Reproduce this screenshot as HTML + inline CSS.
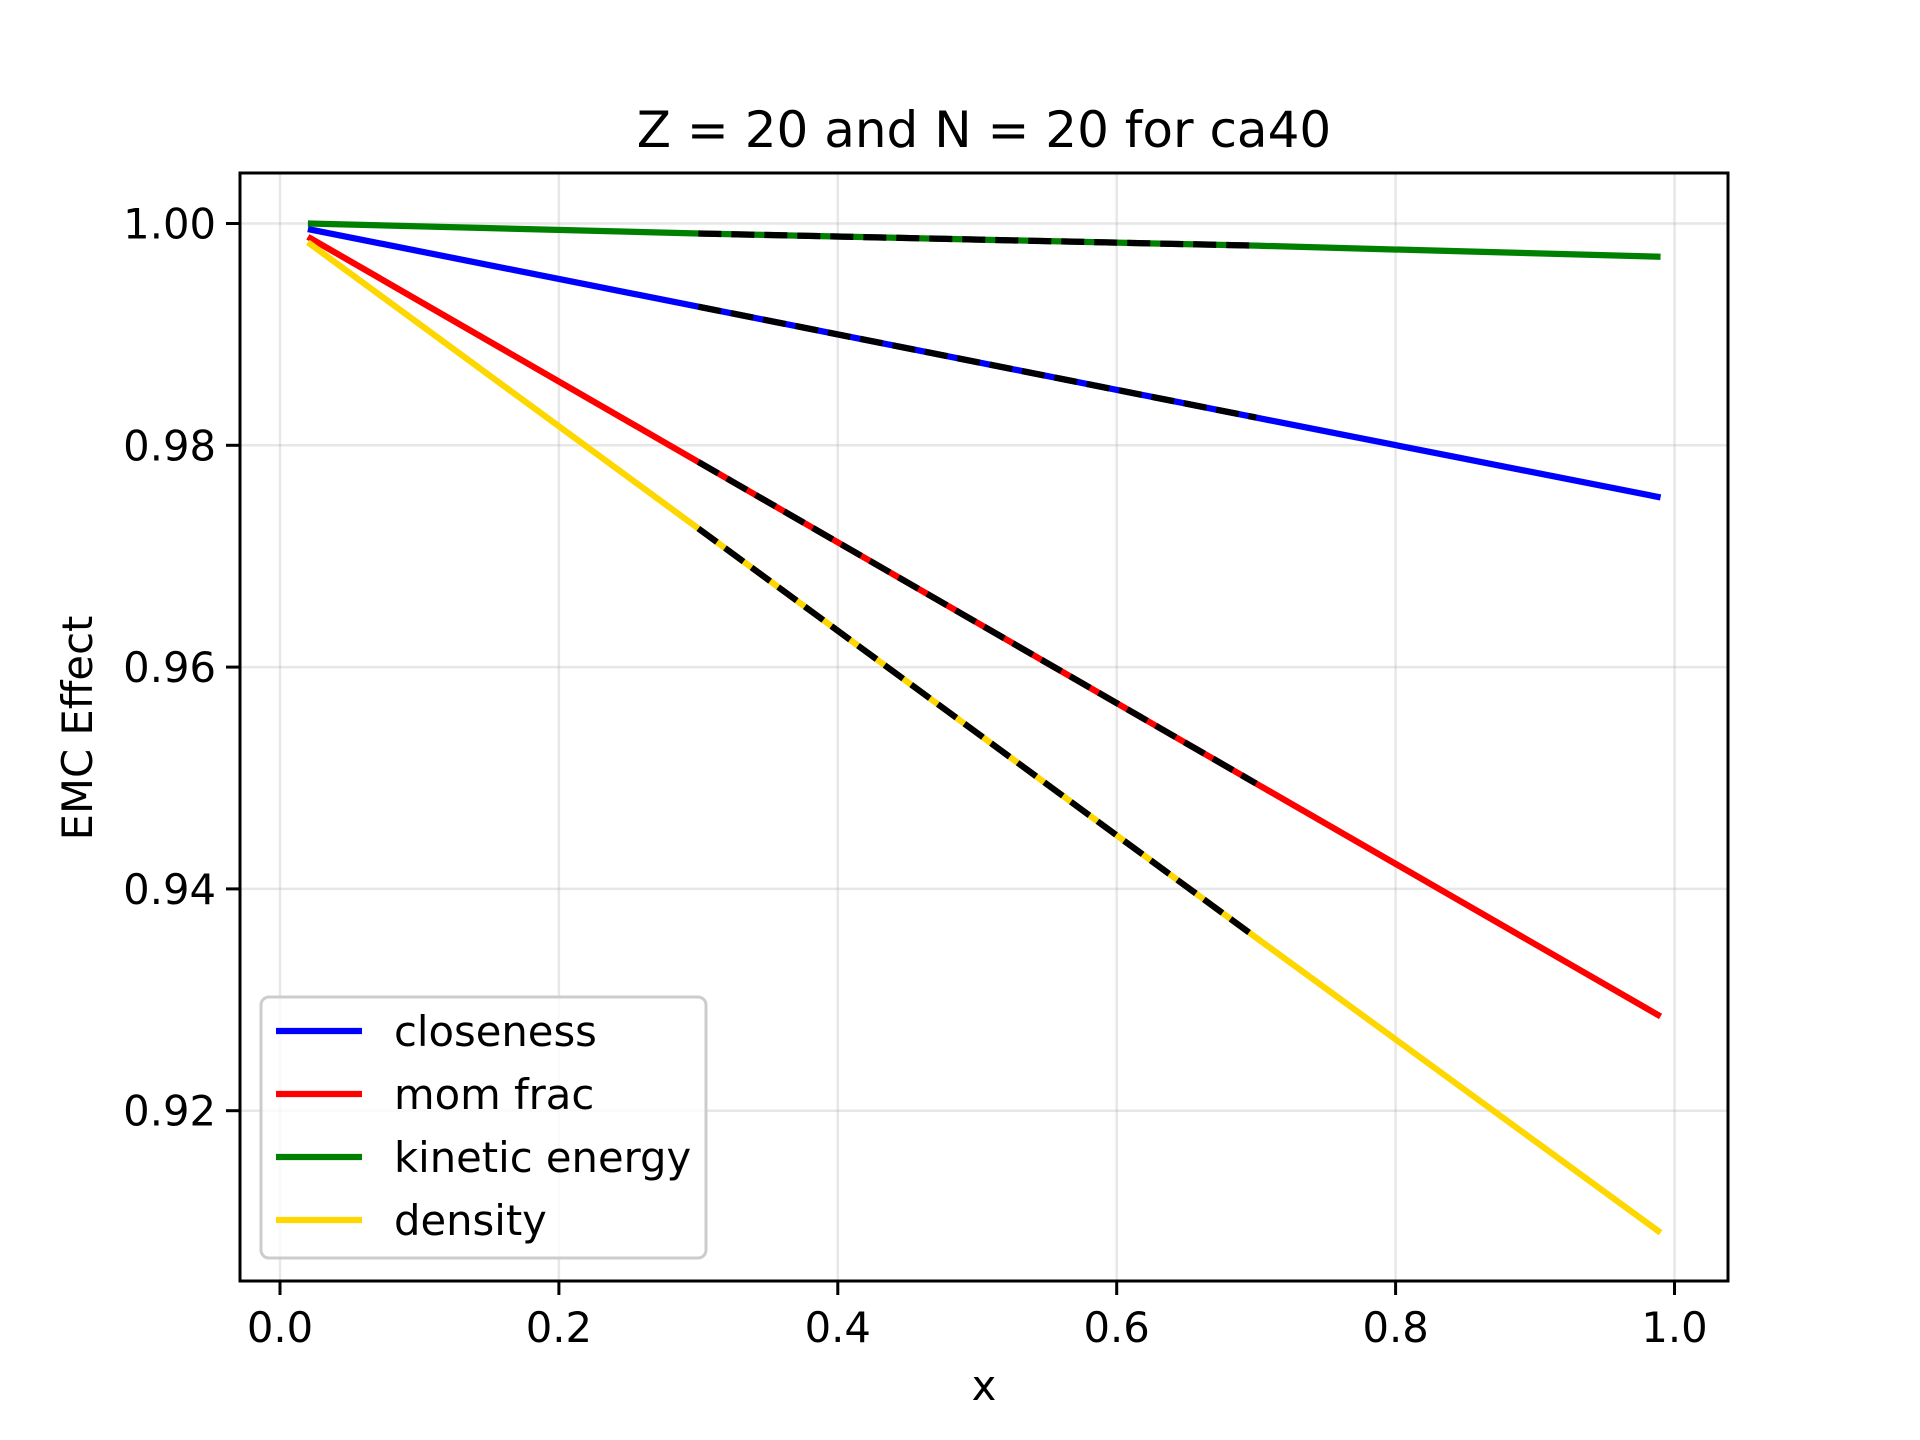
<!DOCTYPE html>
<html><head><meta charset="utf-8"><style>
html,body{margin:0;padding:0;background:#fff;}
svg{display:block;font-family:"DejaVu Sans","Liberation Sans",sans-serif;}
</style></head><body>
<svg id="chart" width="1920" height="1440" viewBox="0 0 1920 1440">
<rect width="1920" height="1440" fill="#fff"/>
<g id="grid"></g>
<g id="series"></g>
<g id="axes"></g>
<g id="legend"></g>
</svg>
<script>
const xPoints = [0.02, 0.3, 0.7, 0.99];
const closeness = [0.9995, 0.9925, 0.9825, 0.9753];
const momFrac = [0.9988, 0.9785, 0.9495, 0.9285];
const kinetic = [1.0000, 0.9991, 0.9980, 0.9970];
const density = [0.9983, 0.9725, 0.9356, 0.9090];
const fitRange = [0.3, 0.7];
const xTicks = [0.0, 0.2, 0.4, 0.6, 0.8, 1.0];
const xTickLabels = ["0.0","0.2","0.4","0.6","0.8","1.0"];
const yTicks = [0.92, 0.94, 0.96, 0.98, 1.00];
const yTickLabels = ["0.92","0.94","0.96","0.98","1.00"];
const seriesNames = ["closeness","mom frac","kinetic energy","density"];

const NS="http://www.w3.org/2000/svg";
const L=240,R=1728,T=173,B=1281;
const xs=v=>280+(v-0)*1394.5;
const ys=v=>223.5+(1.0-v)*11090;
function mk(tag,attrs,parent){const e=document.createElementNS(NS,tag);for(const k in attrs)e.setAttribute(k,attrs[k]);parent.appendChild(e);return e;}
const grid=document.getElementById('grid'),series=document.getElementById('series'),axes=document.getElementById('axes'),legend=document.getElementById('legend'),svg=document.getElementById('chart');

xTicks.forEach((t,i)=>{
  const g=mk('line',{x1:xs(t),x2:xs(t),y1:T,y2:B,stroke:'#b0b0b0','stroke-opacity':0.3,'stroke-width':2.5},grid);
  
  
  const tk=mk('line',{x1:xs(t),x2:xs(t),y1:B,y2:B+14,stroke:'#000','stroke-width':3},axes);
  
  
  const tx=mk('text',{x:xs(t),y:1342,'text-anchor':'middle','font-size':41.7},axes);
  tx.textContent=xTickLabels[i];
  
  
});
yTicks.forEach((t,i)=>{
  const g=mk('line',{x1:L,x2:R,y1:ys(t),y2:ys(t),stroke:'#b0b0b0','stroke-opacity':0.3,'stroke-width':2.5},grid);
  
  
  const tk=mk('line',{x1:L-14,x2:L,y1:ys(t),y2:ys(t),stroke:'#000','stroke-width':3},axes);
  
  
  const tx=mk('text',{x:L-24,y:ys(t)+15,'text-anchor':'end','font-size':41.7},axes);
  tx.textContent=yTickLabels[i];
  
  
});

const data=[closeness,momFrac,kinetic,density];
const colors=['#0000ff','#ff0000','#008000','#ffd700'];
function interp(arr,x){for(let i=0;i<xPoints.length-1;i++){if(x>=xPoints[i]&&x<=xPoints[i+1]){const f=(x-xPoints[i])/(xPoints[i+1]-xPoints[i]);return arr[i]+f*(arr[i+1]-arr[i]);}}return arr[arr.length-1];}
data.forEach((arr,si)=>{
  const p=mk('polyline',{points:xPoints.map((x,i)=>xs(x)+','+ys(arr[i])).join(' '),fill:'none',stroke:colors[si],'stroke-width':6.25,'stroke-linecap':'butt'},series);
  
  
});
data.forEach((arr,si)=>{
  const pts=xPoints.filter(x=>x>=fitRange[0]&&x<=fitRange[1]);
  const d=mk('polyline',{points:pts.map(x=>xs(x)+','+ys(interp(arr,x))).join(' '),fill:'none',stroke:'#000','stroke-width':6.25,'stroke-dasharray':'23 10'},series);
  
  
});

const frame=mk('rect',{x:L,y:T,width:R-L,height:B-T,fill:'none',stroke:'#000','stroke-width':3},axes);



const title=mk('text',{x:984,y:147,'text-anchor':'middle','font-size':50},svg);
title.textContent='Z = 20 and N = 20 for ca40';


const xl=mk('text',{x:984,y:1400,'text-anchor':'middle','font-size':41.7},svg);
xl.textContent='x';


const yl=mk('text',{x:92,y:728,'text-anchor':'middle','font-size':41.7,transform:'rotate(-90 92 728)'},svg);
yl.textContent='EMC Effect';



const lb=mk('rect',{x:261,y:997,width:445,height:261,rx:8,fill:'#fff','fill-opacity':0.8,stroke:'#cccccc','stroke-width':3},legend);


seriesNames.forEach((n,i)=>{
  const y=1031+i*63;
  const ln=mk('line',{x1:276,x2:362,y1:y,y2:y,stroke:colors[i],'stroke-width':6.25},legend);
  
  
  const t=mk('text',{x:394,y:y+15,'font-size':41.7},legend);
  t.textContent=n;
  
  
});
</script>
</body></html>
